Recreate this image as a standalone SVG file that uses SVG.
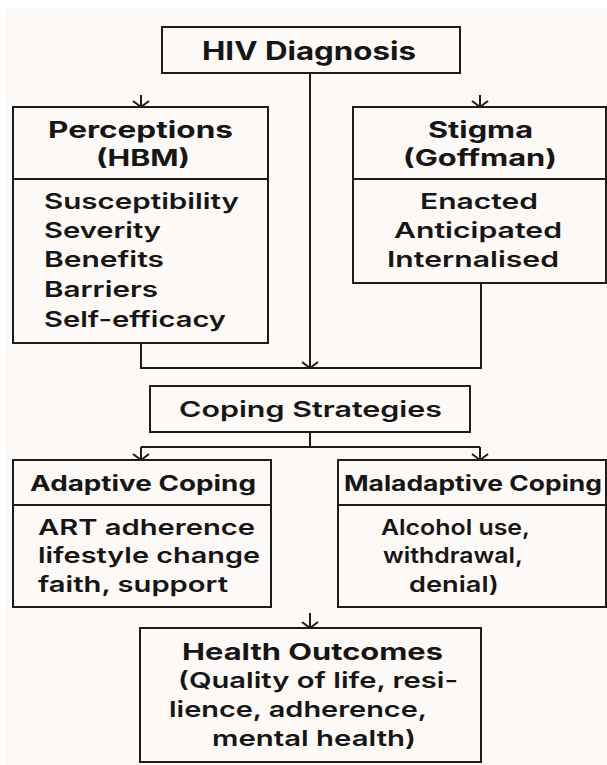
<svg xmlns="http://www.w3.org/2000/svg" width="607" height="765" viewBox="0 0 607 765">
  <style>
    .box { fill: #fcf9f6; stroke: #1c1c1c; stroke-width: 2; }
    .rule { stroke: #1c1c1c; stroke-width: 2; fill: none; }
    .wire { stroke: #1c1c1c; stroke-width: 2; fill: none; }
    .head { font-family: Inter, "Liberation Sans", Arial, sans-serif; font-weight: 700; fill: #161616; }
    .item { font-family: Inter, "Liberation Sans", Arial, sans-serif; font-weight: 600; fill: #161616; }
  </style>
  <defs>
    <marker id="vee" markerUnits="userSpaceOnUse" markerWidth="10" markerHeight="20" refX="6" refY="8" orient="auto" overflow="visible">
      <path d="M0,0 L6,8 L0,16" fill="none" stroke="#1c1c1c" stroke-width="2"/>
    </marker>
  </defs>

  <!-- page -->
  <rect x="0" y="0" width="607" height="765" fill="#ffffff"/>
  <rect x="5" y="8" width="602" height="757" fill="#fcf9f6"/>

  <!-- connectors -->
  <g id="connectors">
    <line class="wire" x1="141" y1="95" x2="141" y2="107" marker-end="url(#vee)"/>
    <line class="wire" x1="480" y1="95" x2="480" y2="107" marker-end="url(#vee)"/>
    <line class="wire" x1="310" y1="73" x2="310" y2="368" marker-end="url(#vee)"/>
    <polyline class="wire" points="141,343 141,368 481,368 481,283"/>
    <polyline class="wire" points="310,432 310,447"/>
    <polyline class="wire" points="141,447 480,447"/>
    <line class="wire" x1="141" y1="447" x2="141" y2="460" marker-end="url(#vee)"/>
    <line class="wire" x1="480" y1="447" x2="480" y2="460" marker-end="url(#vee)"/>
    <line class="wire" x1="310" y1="613" x2="310" y2="628" marker-end="url(#vee)"/>
  </g>

  <!-- HIV Diagnosis -->
  <g id="hiv-diagnosis">
    <rect class="box" x="162" y="27" width="298" height="46"/>
    <text class="head" x="202" y="60" font-size="25" textLength="214" lengthAdjust="spacingAndGlyphs">HIV Diagnosis</text>
  </g>

  <!-- Perceptions (HBM) -->
  <g id="perceptions">
    <rect class="box" x="13" y="107" width="255" height="236"/>
    <line class="rule" x1="13" y1="179" x2="268" y2="179"/>
    <text class="head" x="48" y="138" font-size="23" textLength="185" lengthAdjust="spacingAndGlyphs">Perceptions</text>
    <text class="head" x="96" y="166" font-size="23" textLength="94" lengthAdjust="spacingAndGlyphs">(HBM)</text>
    <text class="item" x="44" y="209" font-size="22" textLength="195" lengthAdjust="spacingAndGlyphs">Susceptibility</text>
    <text class="item" x="44" y="238" font-size="22" textLength="117" lengthAdjust="spacingAndGlyphs">Severity</text>
    <text class="item" x="44" y="267" font-size="22" textLength="120" lengthAdjust="spacingAndGlyphs">Benefits</text>
    <text class="item" x="44" y="297" font-size="22" textLength="114" lengthAdjust="spacingAndGlyphs">Barriers</text>
    <text class="item" x="44" y="327" font-size="22" textLength="182" lengthAdjust="spacingAndGlyphs">Self-efficacy</text>
  </g>

  <!-- Stigma (Goffman) -->
  <g id="stigma">
    <rect class="box" x="353" y="107" width="253" height="176"/>
    <line class="rule" x1="353" y1="179" x2="606" y2="179"/>
    <text class="head" x="428" y="138" font-size="23" textLength="105" lengthAdjust="spacingAndGlyphs">Stigma</text>
    <text class="head" x="403" y="166" font-size="23" textLength="154" lengthAdjust="spacingAndGlyphs">(Goffman)</text>
    <text class="item" x="420" y="209" font-size="22" textLength="118" lengthAdjust="spacingAndGlyphs">Enacted</text>
    <text class="item" x="394" y="238" font-size="22" textLength="168" lengthAdjust="spacingAndGlyphs">Anticipated</text>
    <text class="item" x="387" y="267" font-size="22" textLength="172" lengthAdjust="spacingAndGlyphs">Internalised</text>
  </g>

  <!-- Coping Strategies -->
  <g id="coping-strategies">
    <rect class="box" x="150" y="386" width="320" height="46"/>
    <text class="item" x="179" y="417" font-size="22" textLength="263" lengthAdjust="spacingAndGlyphs">Coping Strategies</text>
  </g>

  <!-- Adaptive Coping -->
  <g id="adaptive-coping">
    <rect class="box" x="13" y="460" width="258" height="147"/>
    <line class="rule" x1="13" y1="505" x2="271" y2="505"/>
    <text class="head" x="30" y="491" font-size="21" textLength="226" lengthAdjust="spacingAndGlyphs">Adaptive Coping</text>
    <text class="item" x="38" y="535" font-size="22" textLength="217" lengthAdjust="spacingAndGlyphs">ART adherence</text>
    <text class="item" x="38" y="563" font-size="22" textLength="222" lengthAdjust="spacingAndGlyphs">lifestyle change</text>
    <text class="item" x="38" y="592" font-size="22" textLength="190" lengthAdjust="spacingAndGlyphs">faith, support</text>
  </g>

  <!-- Maladaptive Coping -->
  <g id="maladaptive-coping">
    <rect class="box" x="338" y="460" width="268" height="147"/>
    <line class="rule" x1="338" y1="505" x2="606" y2="505"/>
    <text class="head" x="344" y="491" font-size="21" textLength="258" lengthAdjust="spacingAndGlyphs">Maladaptive Coping</text>
    <text class="item" x="381" y="535" font-size="22" textLength="149" lengthAdjust="spacingAndGlyphs">Alcohol use,</text>
    <text class="item" x="383" y="563" font-size="22" textLength="140" lengthAdjust="spacingAndGlyphs">withdrawal,</text>
    <text class="item" x="409" y="592" font-size="22" textLength="90" lengthAdjust="spacingAndGlyphs">denial)</text>
  </g>

  <!-- Health Outcomes -->
  <g id="health-outcomes">
    <rect class="box" x="140" y="628" width="341" height="134"/>
    <text class="head" x="182" y="660" font-size="23" textLength="261" lengthAdjust="spacingAndGlyphs">Health Outcomes</text>
    <text class="item" x="178" y="688" font-size="22" textLength="280" lengthAdjust="spacingAndGlyphs">(Quality of life, resi-</text>
    <text class="item" x="169" y="717" font-size="22" textLength="258" lengthAdjust="spacingAndGlyphs">lience, adherence,</text>
    <text class="item" x="212" y="746" font-size="22" textLength="204" lengthAdjust="spacingAndGlyphs">mental health)</text>
  </g>
</svg>
